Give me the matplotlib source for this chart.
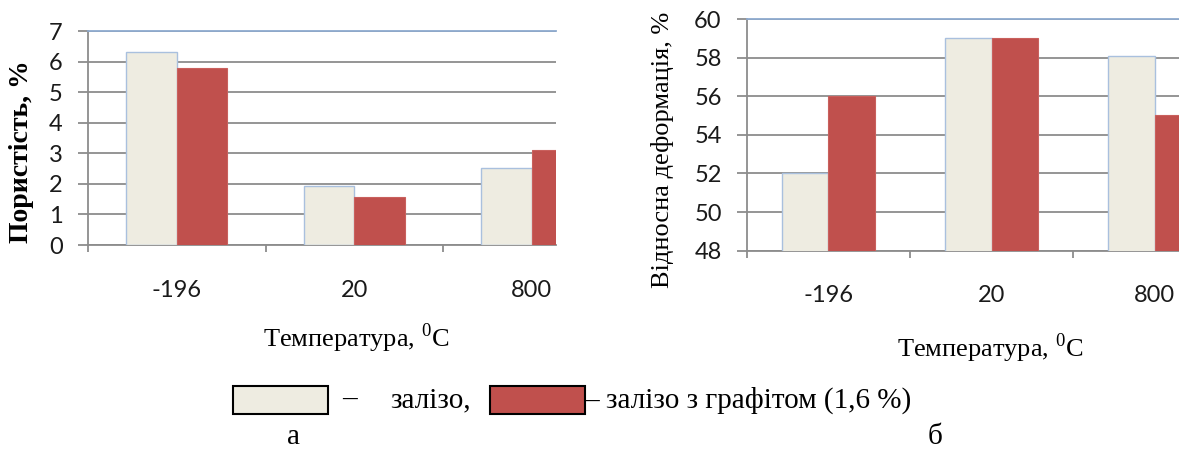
import matplotlib
matplotlib.use("Agg")
import matplotlib.pyplot as plt
import numpy as np
from matplotlib.patches import Rectangle

# data
temps = ["-196", "20", "800"]
porosity_iron = [6.32, 1.93, 2.52]
porosity_graph = [5.80, 1.56, 3.12]
deform_iron = [52.0, 59.0, 58.1]
deform_graph = [56.0, 59.0, 55.05]

c_iron = "#eeece1"
c_iron_edge = "#a9c0de"
c_graph = "#c0504d"
c_grid = "#8c8c8c"
c_top = "#8eaacf"

plt.rcParams["mathtext.fontset"] = "custom"
plt.rcParams["mathtext.rm"] = "Liberation Serif"

fig = plt.figure(figsize=(11.79, 4.5), dpi=100)

w = 1 / 3.5  # excel gap width 150%


def draw(ax, iron, graph, ylim, step, xmax):
    x = np.arange(len(iron)) + 0.5
    ax.bar(x - w / 2, iron, w, color=c_iron, edgecolor=c_iron_edge, lw=1.0, zorder=3)
    ax.bar(x + w / 2, graph, w, color=c_graph, edgecolor="#c9605d", lw=0.8, zorder=3)
    ax.set_yticks(np.arange(ylim[0], ylim[1] + 0.1, step))
    ax.yaxis.grid(True, color=c_grid, lw=1.3)
    ax.set_axisbelow(True)
    ax.set_xticks(x)
    ax.set_xticklabels(temps)
    ax.set_xticks(np.arange(0, 4), minor=True)
    ax.set_ylim(*ylim)
    ax.set_xlim(0, xmax)
    ax.tick_params(axis="x", which="major", length=0, pad=25, labelsize=17)
    ax.tick_params(axis="x", which="minor", length=5, color=c_grid, width=1.3)
    ax.tick_params(axis="y", length=7.2, color=c_grid, width=1.3, labelsize=17, pad=11)
    for lab in ax.get_xticklabels() + ax.get_yticklabels():
        lab.set_family("Lato")
        lab.set_color("#1a1a1a")
    ax.spines["right"].set_visible(False)
    for s in ("left", "bottom"):
        ax.spines[s].set_color(c_grid)
        ax.spines[s].set_linewidth(1.3)
    ax.spines["top"].set_color(c_top)
    ax.spines["top"].set_linewidth(1.3)


ax1 = fig.add_axes([88 / 1179, 205 / 450, 468 / 1179, 214 / 450])
draw(ax1, porosity_iron, porosity_graph, (0, 7), 1, 468 / 177.5)

ax2 = fig.add_axes([747 / 1179, 199.3 / 450, 432 / 1179, 231.7 / 450])
draw(ax2, deform_iron, deform_graph, (48, 60), 2, 432 / 163)

serif = "Liberation Serif"
fig.text(22 / 1179, 1 - 152 / 450, "Пористість, %", rotation=90, ha="center", va="center",
         family=serif, weight="bold", fontsize=20)
fig.text(662 / 1179, 1 - 150 / 450, "Відносна деформація, %", rotation=90, ha="center",
         va="center", family=serif, fontsize=19)
fig.text(356 / 1179, 1 - 338 / 450, "Температура, $^0$C", ha="center", va="center",
         family=serif, fontsize=19)
fig.text(990 / 1179, 1 - 348 / 450, "Температура, $^0$C", ha="center", va="center",
         family=serif, fontsize=19)

# legend
fig.patches.append(Rectangle((233 / 1179, 36 / 450), 95 / 1179, 28 / 450,
                             transform=fig.transFigure, fc=c_iron, ec="black", lw=1.5))
fig.patches.append(Rectangle((490 / 1179, 36 / 450), 95 / 1179, 28 / 450,
                             transform=fig.transFigure, fc=c_graph, ec="black", lw=1.5))
fig.text(350 / 1179, 1 - 400 / 450, "–", ha="center", va="center", family=serif, fontsize=21)
fig.text(390 / 1179, 1 - 400 / 450, "залізо,", ha="left", va="center", family=serif, fontsize=21)
fig.text(584 / 1179, 1 - 400 / 450, "– залізо з графітом (1,6 %)", ha="left", va="center",
         family=serif, fontsize=21)
fig.text(293 / 1179, 1 - 437 / 450, "а", ha="center", va="center", family=serif, fontsize=21)
fig.text(935 / 1179, 1 - 437 / 450, "б", ha="center", va="center", family=serif, fontsize=21)

fig.savefig("out.png", dpi=100)
